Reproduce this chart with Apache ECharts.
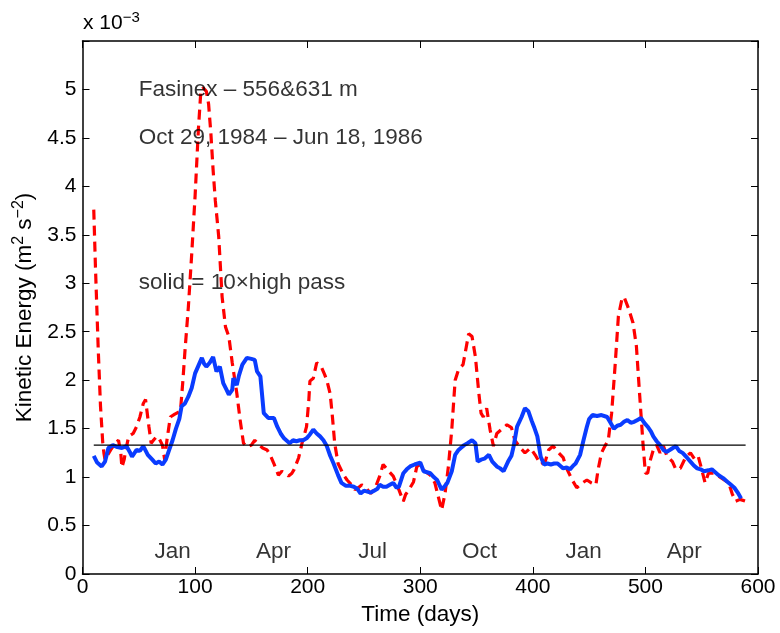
<!DOCTYPE html>
<html><head><meta charset="utf-8">
<script src="https://cdn.jsdelivr.net/npm/echarts@6/dist/echarts.min.js"></script>
<style>html,body{margin:0;padding:0;background:#fff}#c{width:780px;height:633px}</style>
</head><body><div id="c"></div>
<script>
// Blue (solid, 10x high pass) : [day, KE x1e-3]
const blueDays = [10,13,17,20,23,27,31,35,39,42,44,48,51,54,58,62,65,68,71,74,77,80,83,86,88,91,94,97,100,103,106,108,110,113,116,119,122,125,128,130,133,134,137,139,142,146,150,153,155,158,161,165,170,173,176,179,184,187,190,193,196,199,202,205,208,211,214,217,220,223,227,230,234,238,241,244,247,250,253,256,259,262,264,267,270,273,276,279,281,285,288,291,295,300,303,306,309,312,315,319,322,324,328,331,334,336,339,342,346,349,351,354,357,361,364,368,371,374,378,381,383,386,390,393,396,399,401,404,407,410,413,416,419,422,425,427,430,433,436,438,442,445,448,450,453,457,461,466,469,472,475,478,481,484,487,490,493,496,499,502,505,507,510,513,516,519,523,527,530,533,537,540,543,546,549,552,556,559,562,565,569,573,576,579,582,585];
const blueVals = [1.22,1.15,1.11,1.16,1.30,1.33,1.31,1.30,1.32,1.26,1.21,1.28,1.27,1.32,1.23,1.18,1.14,1.16,1.13,1.18,1.28,1.38,1.50,1.60,1.73,1.76,1.83,1.92,2.07,2.15,2.23,2.17,2.14,2.18,2.24,2.09,2.14,1.97,1.90,1.85,1.90,2.02,1.95,2.05,2.16,2.23,2.22,2.21,2.09,2.04,1.66,1.61,1.61,1.52,1.45,1.40,1.35,1.38,1.37,1.38,1.38,1.40,1.44,1.49,1.45,1.42,1.38,1.32,1.22,1.14,1.02,0.94,0.91,0.91,0.90,0.88,0.83,0.86,0.85,0.84,0.86,0.88,0.92,0.90,0.90,0.92,0.94,0.89,0.90,1.04,1.08,1.11,1.13,1.15,1.06,1.05,1.04,1.00,0.97,0.87,0.91,0.94,1.06,1.23,1.28,1.30,1.33,1.35,1.38,1.35,1.16,1.18,1.19,1.23,1.16,1.11,1.09,1.06,1.16,1.22,1.32,1.52,1.62,1.71,1.68,1.58,1.52,1.42,1.21,1.13,1.14,1.13,1.14,1.14,1.11,1.09,1.10,1.08,1.12,1.14,1.23,1.38,1.52,1.60,1.64,1.63,1.64,1.62,1.56,1.50,1.53,1.54,1.57,1.59,1.56,1.57,1.59,1.61,1.56,1.52,1.47,1.42,1.37,1.33,1.28,1.26,1.29,1.32,1.27,1.25,1.20,1.16,1.12,1.09,1.08,1.06,1.07,1.08,1.05,1.02,0.99,0.95,0.92,0.89,0.84,0.78];
// Red (dashed, low pass)
const redDays = [10,11.5,14,16,18,19,20,22,25,29,32,34,35,37,38,41,45,48,51,54,56,59,61,63,66,68,71,73,75,78,82,87,89,91,94,97,100,103,105,107,110,112,114,116,118,121,124,127,130,133,137,140,143,146,150,153,157,160,164,167,170,174,177,180,183,186,188,192,195,199,201,202,205,208,212,215,217,220,222,224,227,232,235,239,242,245,248,251,256,260,264,267,272,276,281,285,287,290,294,297,300,304,309,313,316,319,322,325,328,331,334,338,341,343,346,349,352,354,356,359,362,365,368,372,377,381,384,389,393,398,402,407,411,414,418,423,427,430,435,439,444,448,452,456,458,461,464,467,470,473,476,479,481,485,489,492,494,496,498,500,502,504,507,510,513,516,519,524,527,531,536,540,544,547,550,553,556,561,565,570,574,577,580,584,589];
const redVals = [3.76,3.17,2.31,1.73,1.35,1.25,1.18,1.22,1.28,1.35,1.38,1.25,1.10,1.18,1.25,1.42,1.45,1.52,1.62,1.76,1.80,1.52,1.35,1.38,1.42,1.40,1.33,1.18,1.38,1.62,1.65,1.68,1.97,2.30,2.75,3.30,3.90,4.60,4.96,5.02,4.98,4.85,4.55,4.17,3.85,3.48,2.86,2.55,2.45,2.18,1.87,1.59,1.35,1.31,1.33,1.38,1.33,1.30,1.28,1.22,1.14,1.02,1.06,1.04,1.01,1.04,1.08,1.20,1.35,1.52,1.79,1.99,2.02,2.18,2.14,2.06,2.00,1.86,1.62,1.35,1.14,1.02,0.97,0.92,0.87,0.89,0.92,0.90,0.83,0.89,1.01,1.13,1.06,1.01,0.87,0.75,0.82,0.87,0.95,1.11,1.13,1.06,1.02,0.94,0.80,0.66,0.83,1.11,1.49,2.00,2.11,2.16,2.35,2.48,2.45,2.24,1.87,1.66,1.62,1.71,1.49,1.32,1.45,1.49,1.54,1.51,1.38,1.30,1.25,1.30,1.23,1.13,1.16,1.28,1.32,1.25,1.20,1.09,0.97,0.89,0.94,0.97,0.94,0.92,1.08,1.25,1.32,1.38,1.66,2.14,2.66,2.83,2.86,2.74,2.59,2.35,2.00,1.66,1.32,1.04,1.04,1.16,1.28,1.33,1.25,1.32,1.22,1.16,1.08,1.09,1.21,1.25,1.18,1.21,1.08,0.94,1.04,1.04,1.01,0.97,0.94,0.83,0.75,0.77,0.75];
// Mean level line
const meanDays = [10,589];
const meanVal = 1.33;
// Month labels (left-aligned at month start)
const monthLabels = ['Jan','Apr','Jul','Oct','Jan','Apr'];
const monthDays = [64,154,245,337,429,519];
const monthY = 0.23;
// Annotations
const annoTexts = ['Fasinex \u2013 556&631 m','Oct 29, 1984 \u2013 Jun 18, 1986','solid = 10\u00d7high pass'];
const annoX = [50,50,50];
const annoY = [5.0,4.5,3.0];
const xTicks = [0,100,200,300,400,500,600];
const yTicks = [0,0.5,1,1.5,2,2.5,3,3.5,4,4.5,5];

const FONT = "'Liberation Sans', Arial, Helvetica, sans-serif";
const zip = (a,b)=>a.map((v,i)=>[v,b[i]]);
const chart = echarts.init(document.getElementById('c'), null, {renderer:'canvas'});
const axisCommon = () => ({
  axisLine:{show:true,onZero:false,lineStyle:{color:'#000',width:1.5}},
  axisTick:{show:true,inside:true,length:7,lineStyle:{color:'#000',width:1}},
  splitLine:{show:false}
});
chart.setOption({
  animation:false,
  grid:{left:82.5,right:22,top:41,bottom:59,containLabel:false},
  xAxis:[
    Object.assign({type:'value',min:0,max:600,interval:100,position:'bottom',
      name:'Time (days)',nameLocation:'middle',nameGap:27,
      nameTextStyle:{fontFamily:FONT,fontSize:22.5,color:'#000'},
      axisLabel:{fontFamily:FONT,fontSize:21,color:'#000',margin:3,
        formatter:v=>xTicks.includes(v)?String(v):''}},axisCommon()),
    Object.assign({type:'value',min:0,max:600,interval:100,position:'top',axisLabel:{show:false}},axisCommon())
  ],
  yAxis:[
    Object.assign({type:'value',min:0,max:5.5,interval:0.5,position:'left',
      name:'Kinetic Energy (m{sup|2} s{sup|\u22122})',nameLocation:'middle',nameGap:43,nameRotate:90,
      nameTextStyle:{fontFamily:FONT,fontSize:22.5,color:'#000',
        rich:{sup:{fontFamily:FONT,fontSize:16,color:'#000',padding:[0,0,12,0]}}},
      axisLabel:{fontFamily:FONT,fontSize:21,color:'#000',margin:6,
        formatter:v=>yTicks.some(t=>Math.abs(t-v)<1e-9)?String(+v.toFixed(1)):''}},axisCommon()),
    Object.assign({type:'value',min:0,max:5.5,interval:0.5,position:'right',axisLabel:{show:false}},axisCommon())
  ],
  graphic:[{type:'text',left:83,top:10,style:{
    text:'x 10{sup|\u22123}',fontFamily:FONT,fontSize:21,fill:'#000',
    rich:{sup:{fontFamily:FONT,fontSize:15,fill:'#000',padding:[0,0,12,0]}}}}],
  series:[
    {type:'line',data:zip(redDays,redVals),showSymbol:false,symbol:'none',
      lineStyle:{color:'#ff0000',width:3.2,type:[10,6]},z:3},
    {type:'line',data:zip(blueDays,blueVals),showSymbol:false,symbol:'none',
      lineStyle:{color:'#0a3cff',width:4},z:4},
    {type:'line',data:meanDays.map(d=>[d,meanVal]),showSymbol:false,symbol:'none',
      lineStyle:{color:'#000',width:1.2},z:5},
    {type:'scatter',data:zip(monthDays,monthDays.map(()=>monthY)),symbolSize:0,
      label:{show:true,position:'right',distance:0,align:'left',verticalAlign:'middle',
        fontFamily:FONT,fontSize:22.5,color:'#000',formatter:p=>monthLabels[p.dataIndex]},z:6},
    {type:'scatter',data:zip(annoX,annoY),symbolSize:0,
      label:{show:true,position:'right',distance:0,align:'left',verticalAlign:'middle',
        fontFamily:FONT,fontSize:22.5,color:'#000',formatter:p=>annoTexts[p.dataIndex]},z:6}
  ]
});
</script></body></html>
